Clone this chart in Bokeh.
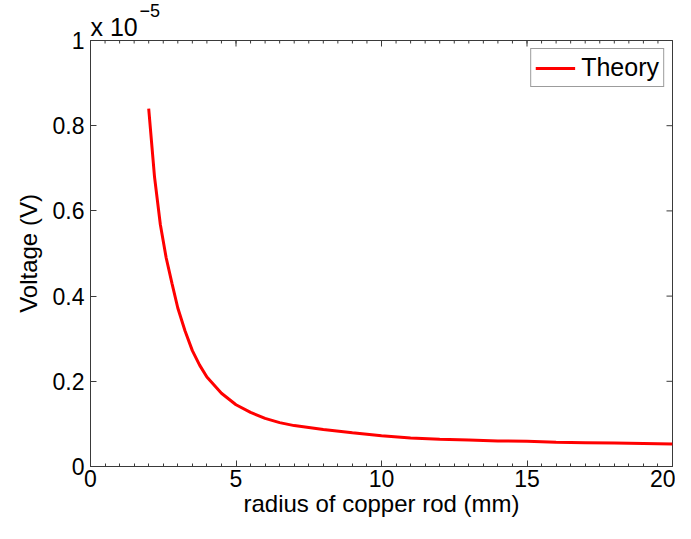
from bokeh.plotting import figure
from bokeh.models import Range1d, FixedTicker, LinearAxis, Legend, LegendItem, Title
from bokeh.embed import file_html
from bokeh.resources import INLINE
import numpy as np

# radius of copper rod (mm)
radius = [2.0, 2.2, 2.4, 2.6, 2.8, 3.0, 3.25, 3.5, 3.75, 4.0, 4.5, 5.0, 5.5, 6.0, 6.5, 7.0,
          8, 9, 10, 11, 12, 13, 14, 15, 16, 17, 18, 19, 20]
# voltage in units of 1e-5 V
voltage = [0.840, 0.680, 0.568, 0.490, 0.430, 0.372, 0.318, 0.272, 0.238, 0.210, 0.172, 0.145,
           0.127, 0.113, 0.103, 0.096, 0.087, 0.079, 0.072, 0.067, 0.064, 0.062, 0.060, 0.059,
           0.057, 0.056, 0.055, 0.054, 0.053]
x_ticks = [0, 5, 10, 15, 20]
x_minor = list(np.arange(0, 20.01, 0.5))
y_ticks = [0, 0.2, 0.4, 0.6, 0.8, 1]
y_tick_labels = {0: "0", 0.2: "0.2", 0.4: "0.4", 0.6: "0.6", 0.8: "0.8", 1: "1"}
X_MIN, X_MAX = 0, 20
Y_MIN, Y_MAX = 0, 1

FONT = "Liberation Sans"
AX = "#3a3a3a"
FS = "23px"

p = figure(width=675, height=523, output_backend="svg", toolbar_location=None,
           x_range=Range1d(X_MIN, X_MAX), y_range=Range1d(Y_MIN, Y_MAX),
           min_border_left=90, min_border_right=3, min_border_top=40, min_border_bottom=57,
           x_axis_location=None, y_axis_location=None)
p.xgrid.visible = False
p.ygrid.visible = False
p.outline_line_color = AX
p.outline_line_width = 1
p.background_fill_color = "white"
p.border_fill_color = "white"

def style(ax):
    ax.axis_line_color = AX
    ax.major_tick_line_color = AX
    ax.minor_tick_line_color = AX
    ax.major_tick_in = 6
    ax.major_tick_out = 0
    ax.minor_tick_in = 3
    ax.minor_tick_out = 0
    ax.major_label_text_font = FONT
    ax.major_label_text_font_size = FS
    ax.major_label_text_color = "black"
    ax.axis_label_text_font = FONT
    ax.axis_label_text_font_size = "24px"
    ax.axis_label_text_font_style = "normal"
    ax.axis_label_text_color = "black"

xb = LinearAxis(ticker=FixedTicker(ticks=x_ticks, minor_ticks=x_minor), axis_label="radius of copper rod (mm)")
style(xb)
xb.major_label_standoff = 3
xb.axis_label_standoff = 0
p.add_layout(xb, "below")

yl = LinearAxis(ticker=FixedTicker(ticks=y_ticks, minor_ticks=[]), axis_label="Voltage (V)")
style(yl)
yl.major_label_overrides = y_tick_labels
yl.major_label_standoff = 6
yl.axis_label_standoff = 8
p.add_layout(yl, "left")

# mirrored inward ticks on the top and right edges of the box (outer halves clipped by the frame)
p.scatter(x_minor, [Y_MAX] * len(x_minor), marker="cross", size=6, line_color=AX, line_width=1)
p.scatter(x_ticks, [Y_MAX] * len(x_ticks), marker="cross", size=12, line_color=AX, line_width=1)
p.scatter([X_MAX] * len(y_ticks), y_ticks, marker="dash", size=12, line_color=AX, line_width=1)

r = p.line(radius, voltage, line_color="#ff0000", line_width=3)

legend = Legend(items=[LegendItem(label="Theory", renderers=[r])], location="top_right")
legend.label_text_font = FONT
legend.label_text_font_size = "25px"
legend.label_text_color = "black"
legend.glyph_width = 40
legend.border_line_color = AX
legend.border_line_width = 1
legend.margin = 8
legend.padding = 4
legend.label_standoff = 6
legend.background_fill_alpha = 1
p.add_layout(legend, "center")

# axis multiplier "x 10^-5" above the top-left corner
t_base = Title(text="x 10", align="left", offset=0, standoff=0, text_font=FONT,
               text_font_size="25px", text_font_style="normal", text_color="black")
t_exp = Title(text="\u22125", align="left", offset=49, standoff=-12, text_font=FONT,
              text_font_size="18px", text_font_style="normal", text_color="black")
p.add_layout(t_base, "above")
p.add_layout(t_exp, "above")

open("out.html", "w").write(file_html(p, INLINE))
